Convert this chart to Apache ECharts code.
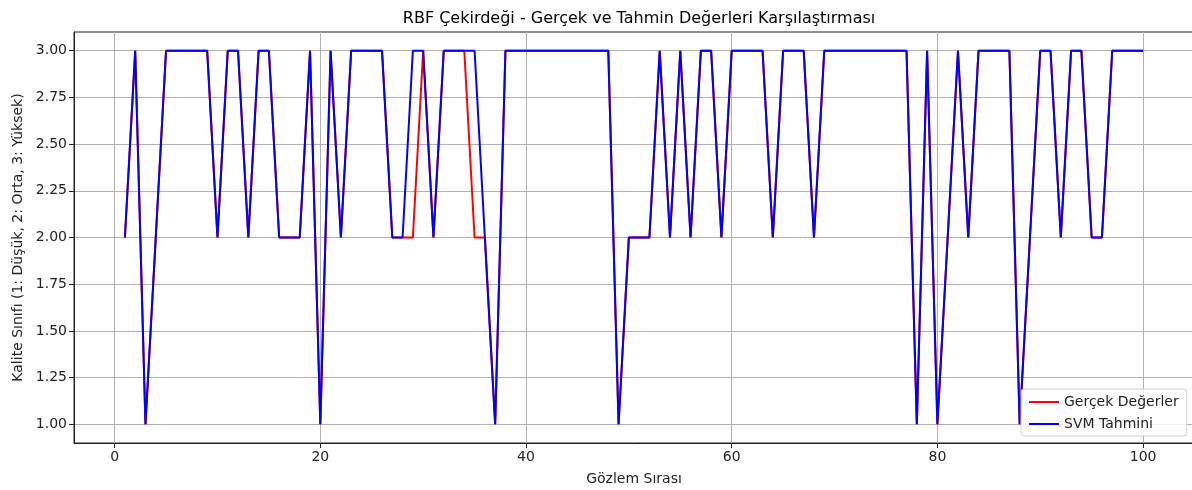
<!DOCTYPE html>
<html>
<head>
<meta charset="utf-8">
<script src="https://cdn.jsdelivr.net/npm/echarts@6/dist/echarts.min.js"></script>
<style>
html,body{margin:0;padding:0;background:#fff;}
#c{width:1192px;height:490px;}
</style>
</head>
<body>
<div id="c"></div>
<script>
const titleText = "RBF Çekirdeği - Gerçek ve Tahmin Değerleri Karşılaştırması";
const xName = "Gözlem Sırası";
const yName = "Kalite Sınıfı (1: Düşük, 2: Orta, 3: Yüksek)";
const seriesNames = ["Gerçek Değerler", "SVM Tahmini"];
const xTicks = [0, 20, 40, 60, 80, 100];
const yTicks = [1.00, 1.25, 1.50, 1.75, 2.00, 2.25, 2.50, 2.75, 3.00];

// Observation 1..100
const actual = [
  2,3,1,2,3,3,3,3,3,2,
  3,3,2,3,3,2,2,2,3,1,
  3,2,3,3,3,3,2,2,2,3,
  2,3,3,3,2,2,1,3,3,3,
  3,3,3,3,3,3,3,3,1,2,
  2,2,3,2,3,2,3,3,2,3,
  3,3,3,2,3,3,3,2,3,3,
  3,3,3,3,3,3,3,1,3,1,
  2,3,2,3,3,3,3,1,2,3,
  3,2,3,3,2,2,3,3,3,3
];
const predicted = [
  2,3,1,2,3,3,3,3,3,2,
  3,3,2,3,3,2,2,2,3,1,
  3,2,3,3,3,3,2,2,3,3,
  2,3,3,3,3,2,1,3,3,3,
  3,3,3,3,3,3,3,3,1,2,
  2,2,3,2,3,2,3,3,2,3,
  3,3,3,2,3,3,3,2,3,3,
  3,3,3,3,3,3,3,1,3,1,
  2,3,2,3,3,3,3,1,2,3,
  3,2,3,3,2,2,3,3,3,3
];

const toPairs = arr => arr.map((v, i) => [i + 1, v]);
const FONT = "DejaVu Sans";
const chart = echarts.init(document.getElementById('c'), null, {renderer: 'canvas'});
chart.setOption({
  animation: false,
  backgroundColor: '#ffffff',
  textStyle: {fontFamily: FONT},
  title: {
    text: titleText,
    left: 634, top: 6, textAlign: 'center',
    textStyle: {fontFamily: FONT, fontSize: 16, fontWeight: 'normal', color: '#000'}
  },
  grid: {
    left: 74, top: 32, width: 1120, bottom: 47,
    containLabel: false, outerBoundsMode: 'none',
    show: true, borderColor: '#222', borderWidth: 1, backgroundColor: 'transparent'
  },
  legend: {
    orient: 'vertical', left: 1021, top: 389,
    backgroundColor: 'rgba(255,255,255,0.85)', borderColor: '#d0d0d0', borderWidth: 1, borderRadius: 3,
    padding: [6, 8, 5, 8], itemGap: 8,
    itemWidth: 30, itemHeight: 2, icon: 'rect',
    textStyle: {fontFamily: FONT, fontSize: 14, color: '#222'},
    data: seriesNames
  },
  xAxis: {
    type: 'value', min: -3.95, max: 104.95,
    name: xName, nameLocation: 'middle', nameGap: 29,
    nameTextStyle: {fontFamily: FONT, fontSize: 14, color: '#222'},
    axisLine: {show: true, onZero: false, lineStyle: {color: '#222', width: 1}},
    axisTick: {show: true, length: 5, customValues: xTicks, lineStyle: {color: '#222'}},
    axisLabel: {customValues: xTicks, fontFamily: FONT, fontSize: 14, color: '#222', margin: 7},
    splitLine: {show: true, lineStyle: {color: '#b0b0b0', width: 1}}
  },
  yAxis: {
    type: 'value', min: 0.9, max: 3.1,
    name: yName, nameLocation: 'middle', nameGap: 48, nameRotate: 90,
    nameTextStyle: {fontFamily: FONT, fontSize: 14, color: '#222'},
    axisLine: {show: true, onZero: false, lineStyle: {color: '#222', width: 1}},
    axisTick: {show: true, length: 5, customValues: yTicks, lineStyle: {color: '#222'}},
    axisLabel: {customValues: yTicks, fontFamily: FONT, fontSize: 14, color: '#222', margin: 7,
      formatter: v => Number(v).toFixed(2)},
    splitLine: {show: true, lineStyle: {color: '#b0b0b0', width: 1}}
  },
  series: [
    {name: seriesNames[0], type: 'line', data: toPairs(actual), showSymbol: false, symbol: 'none',
     lineStyle: {color: '#ff0000', width: 2}, itemStyle: {color: '#ff0000'}, z: 2},
    {name: seriesNames[1], type: 'line', data: toPairs(predicted), showSymbol: false, symbol: 'none',
     lineStyle: {color: '#0000ff', width: 2}, itemStyle: {color: '#0000ff'}, z: 3}
  ]
});
</script>
</body>
</html>
